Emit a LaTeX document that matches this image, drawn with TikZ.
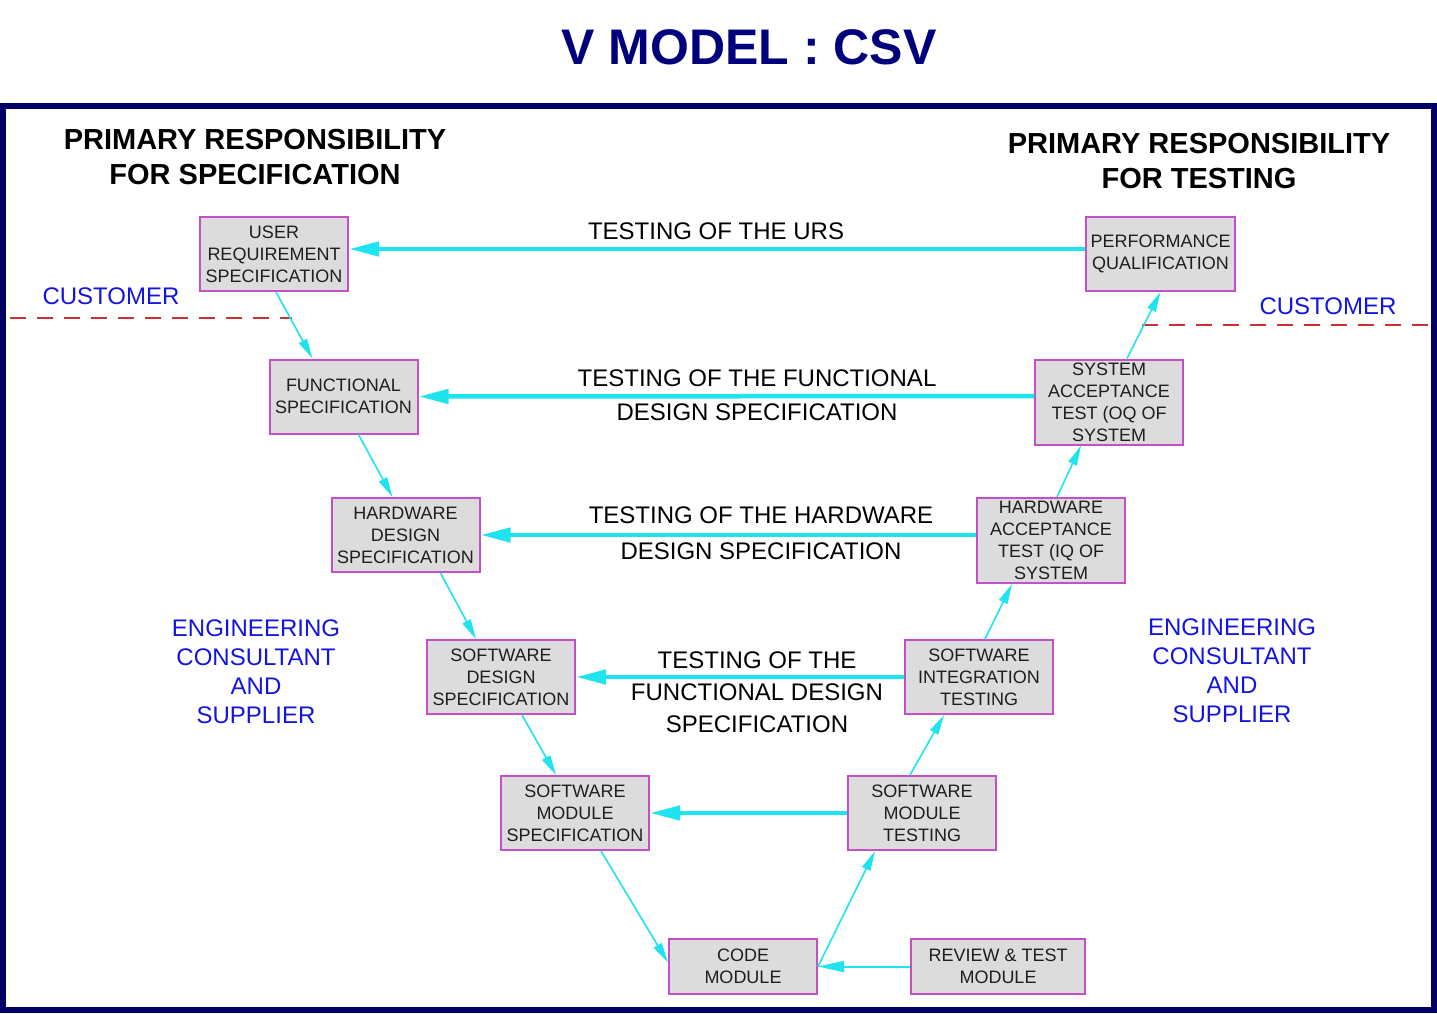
\documentclass[tikz,border=0pt]{standalone}
\usepackage{fontspec}
\setmainfont{Liberation Sans}
\usetikzlibrary{arrows.meta}
\definecolor{navy}{RGB}{0,0,125}
\definecolor{frameblue}{RGB}{0,0,100}
\definecolor{cyanline}{RGB}{30,228,240}
\definecolor{boxfill}{RGB}{220,220,220}
\definecolor{boxedge}{RGB}{196,80,200}
\definecolor{labblue}{RGB}{20,20,225}
\definecolor{dashred}{RGB}{200,50,50}
\definecolor{boxtext}{RGB}{30,30,30}
\tikzset{
  vbox/.style={draw=boxedge, line width=2pt, fill=boxfill, inner sep=0pt,
    minimum width=148pt, minimum height=74pt, align=center,
    font=\fontsize{18}{22}\selectfont, text=boxtext},
  harrow/.style={draw=cyanline, line width=4.5pt, -{Triangle[length=30pt,width=14pt]}},
  darrow/.style={draw=cyanline, line width=1.6pt, -{Triangle[length=20pt,width=9pt]}},
  testlab/.style={font=\fontsize{24}{28}\selectfont, text=black},
  bluelab/.style={font=\fontsize{24}{29}\selectfont, text=labblue, align=center},
  headlab/.style={font=\bfseries\fontsize{29}{35}\selectfont, text=black, align=center},
  reddash/.style={draw=dashred, line width=1.3pt, dash pattern=on 16pt off 11pt},
}
\begin{document}
\begin{tikzpicture}[x=1pt,y=-1pt]
\useasboundingbox (0,0) rectangle (1437,1013);
\fill[white] (0,0) rectangle (1437,1013);
\draw[frameblue, line width=6pt] (3,106) rectangle (1434,1010);
\node[font=\bfseries\fontsize{50}{56}\selectfont, text=navy] (title) at (749,47) {V MODEL : CSV};

\node[headlab] (hl) at (255,157) {PRIMARY RESPONSIBILITY\\FOR SPECIFICATION};
\node[headlab] (hr) at (1199,161) {PRIMARY RESPONSIBILITY\\FOR TESTING};

\node[bluelab] (custl) at (111,296) {CUSTOMER};
\node[bluelab] (custr) at (1328,306) {CUSTOMER};
\coordinate (dl1) at (10,318); \coordinate (dl2) at (292,318);
\coordinate (dr1) at (1142,325); \coordinate (dr2) at (1428,325);
\draw[reddash] (dl1) -- (dl2);
\draw[reddash] (dr1) -- (dr2);

\node[bluelab] (engl) at (256,671.5) {ENGINEERING\\CONSULTANT\\AND\\SUPPLIER};
\node[bluelab] (engr) at (1232,670.5) {ENGINEERING\\CONSULTANT\\AND\\SUPPLIER};

\node[vbox] (urs) at (274,254) {USER\\REQUIREMENT\\SPECIFICATION};
\node[vbox] (fs) at (343.5,396.5) {FUNCTIONAL\\SPECIFICATION};
\node[vbox] (hds) at (405.5,535) {HARDWARE\\DESIGN\\SPECIFICATION};
\node[vbox] (sds) at (501,677) {SOFTWARE\\DESIGN\\SPECIFICATION};
\node[vbox] (sms) at (575,813) {SOFTWARE\\MODULE\\SPECIFICATION};
\node[vbox, minimum height=55pt] (cm) at (743,966.5) {CODE\\MODULE};
\node[vbox, minimum height=55pt, minimum width=174pt] (rtm) at (998,966.5) {REVIEW \& TEST\\MODULE};
\node[vbox] (smt) at (922,813) {SOFTWARE\\MODULE\\TESTING};
\node[vbox] (sit) at (979,677) {SOFTWARE\\INTEGRATION\\TESTING};
\node[vbox, minimum height=85pt] (hat) at (1051,540.5) {HARDWARE\\ACCEPTANCE\\TEST (IQ OF\\SYSTEM};
\node[vbox, minimum height=85pt] (sat) at (1109,402) {SYSTEM\\ACCEPTANCE\\TEST (OQ OF\\SYSTEM};
\node[vbox, minimum width=149pt] (pq) at (1160.5,254) {PERFORMANCE\\QUALIFICATION};

% horizontal test arrows
\draw[harrow] ([yshift=5pt]pq.west) -- ([yshift=5pt]urs.east);
\draw[harrow] ([yshift=6pt]sat.west) -- (fs.east);
\draw[harrow] ([yshift=5.5pt]hat.west) -- (hds.east);
\draw[harrow] (sit.west) -- (sds.east);
\draw[harrow] (smt.west) -- (sms.east);
\draw[draw=cyanline, line width=2pt, -{Triangle[length=26pt,width=11pt]}] (rtm.west) -- (cm.east);

\node[testlab] (t1) at (716,231) {TESTING OF THE URS};
\node[testlab, align=center, font=\fontsize{24}{34}\selectfont] (t2) at (757,395) {TESTING OF THE FUNCTIONAL\\DESIGN SPECIFICATION};
\node[testlab, align=center, font=\fontsize{24}{36}\selectfont] (t3) at (761,533) {TESTING OF THE HARDWARE\\DESIGN SPECIFICATION};
\node[testlab, align=center, font=\fontsize{24}{32}\selectfont] (t4) at (757,692) {TESTING OF THE\\FUNCTIONAL DESIGN\\SPECIFICATION};

% diagonal arrows
\draw[darrow] ([xshift=2pt]urs.south) -- ([xshift=-31pt]fs.north);
\draw[darrow] ([xshift=15pt]fs.south) -- ([xshift=-13pt]hds.north);
\draw[darrow] ([xshift=35pt]hds.south) -- ([xshift=-25pt]sds.north);
\draw[darrow] ([xshift=21pt]sds.south) -- ([xshift=-19pt]sms.north);
\draw[darrow] ([xshift=26pt]sms.south) -- ([yshift=4pt]cm.west);
\draw[darrow] (cm.east) -- ([xshift=-47pt]smt.south);
\draw[darrow] ([xshift=-12pt]smt.north) -- ([xshift=-35pt]sit.south);
\draw[darrow] ([xshift=6pt]sit.north) -- ([xshift=-39pt]hat.south);
\draw[darrow] ([xshift=6pt]hat.north) -- ([xshift=-28pt]sat.south);
\draw[darrow] ([xshift=18pt]sat.north) -- (pq.south);
\end{tikzpicture}
\end{document}
